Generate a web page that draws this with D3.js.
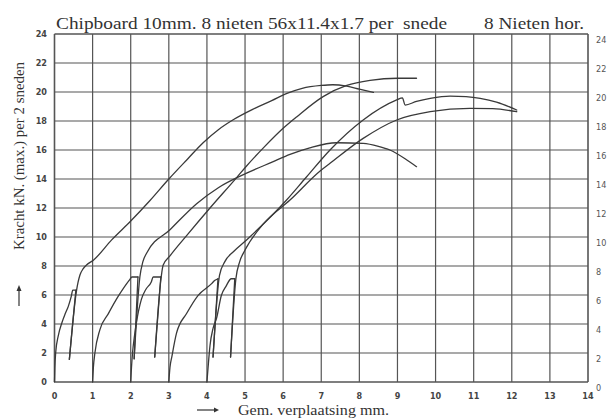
<!DOCTYPE html>
<html>
<head>
<meta charset="utf-8">
<script src="https://cdn.jsdelivr.net/npm/d3@7"></script>
<style>
  html, body { margin: 0; padding: 0; background: #fff; }
  svg { display: block; }
  text { white-space: pre; }
</style>
</head>
<body>
<svg id="chart" width="607" height="419"></svg>
<script>
// ---- data (displacement mm, force kN) ----
const xTickValues = [0,1,2,3,4,5,6,7,8,9,10,11,12,13,14];
const yTickValues = [0,2,4,6,8,10,12,14,16,18,20,22,24];
const yTickLabelsRight = ["0","2","4","6","8","10","12","14","16","18","20","22","24"];

const titleMain = "Chipboard 10mm. 8 nieten 56x11.4x1.7 per  snede";
const titleRight = "8 Nieten hor.";
const xTitle = "Gem. verplaatsing mm.";
const yTitle = "Kracht kN. (max.) per 2 sneden";

// specimen starting at 0
const specA = [
  [0,0],[0.01,1.0],[0.03,2.0],[0.1,3.2],[0.19,4.05],[0.28,4.7],[0.36,5.2],[0.44,5.9],[0.48,6.34],[0.56,6.34],
  [0.39,1.56],
  [0.58,6.34],[0.62,6.9],[0.67,7.4],[0.75,7.8],[0.84,8.07],[1.02,8.4],[1.5,9.8],[2.0,11.1],[2.5,12.5],
  [3.0,14.0],[3.5,15.4],[3.9,16.5],[4.3,17.4],[4.7,18.1],[5.2,18.8],[5.7,19.4],[6.1,19.9],[6.5,20.25],
  [7.0,20.45],[7.3,20.5],[7.67,20.4],[8.0,20.2],[8.37,19.98]
];
// specimen starting at 1
const specB = [
  [1.0,0],[1.02,1.0],[1.06,2.0],[1.19,3.6],[1.41,4.7],[1.67,5.9],[1.98,7.08],[2.03,7.24],[2.19,7.24],
  [2.09,1.6],
  [2.24,7.24],[2.32,8.3],[2.42,8.9],[3.03,10.5],[3.73,12.3],[4.3,13.4],[5.04,14.4],[5.74,15.2],[6.18,15.7],
  [6.7,16.15],[7.4,16.5],[8.1,16.45],[8.5,16.25],[8.8,16.0],[9.2,15.4],[9.5,14.85]
];
// specimen starting at 2
const specC = [
  [2.0,0],[2.02,1.0],[2.05,2.07],[2.1,3.2],[2.15,4.1],[2.28,5.7],[2.4,6.4],[2.54,6.9],[2.59,7.24],[2.79,7.24],
  [2.63,1.72],
  [2.8,7.24],[2.85,8.05],[3.03,8.7],[3.5,10.2],[4.08,12.0],[4.78,14.1],[5.04,14.9],[5.5,16.2],[6.0,17.5],
  [6.36,18.3],[7.06,19.7],[7.67,20.45],[8.28,20.8],[9.0,20.95],[9.5,20.95]
];
// specimen starting at 3
const specD = [
  [3.0,0],[3.03,1.0],[3.08,1.75],[3.2,3.35],[3.47,4.74],[3.77,5.98],[4.13,6.8],[4.2,7.0],[4.29,7.12],
  [4.16,1.72],
  [4.33,7.36],[4.47,8.3],[4.7,9.0],[5.04,9.8],[6.09,12.55],[6.6,14.1],[7.23,16.0],[8.1,18.07],[8.98,19.45],
  [9.13,19.6],[9.2,19.1],[9.5,19.35],[9.86,19.56],[10.38,19.72],[10.8,19.68],[11.17,19.56],[11.6,19.3],[12.13,18.76]
];
// specimen starting at 4
const specE = [
  [4.0,0],[4.03,1.0],[4.08,2.5],[4.16,3.7],[4.25,4.37],[4.38,5.98],[4.5,6.6],[4.64,7.12],[4.73,7.12],
  [4.62,1.72],
  [4.76,7.12],[4.86,8.3],[5.0,9.1],[5.48,10.9],[6.18,12.55],[6.97,14.55],[7.23,15.08],[8.1,16.8],[8.98,18.07],
  [9.86,18.64],[10.9,18.87],[11.5,18.85],[12.13,18.64]
];
const specimens = [specA, specB, specC, specD, specE];

// ---- drawing ----
const svg = d3.select("#chart");
const x = d3.scaleLinear().domain([0,14]).range([54.5,588]);
const y = d3.scaleLinear().domain([0,24]).range([382,34]);

const gridColor = "#555";
const inkColor = "#3a3a3a";

// grid
svg.append("g").selectAll("line").data(xTickValues).join("line")
  .attr("x1", d => x(d)).attr("x2", d => x(d))
  .attr("y1", y(0)).attr("y2", y(24))
  .attr("stroke", gridColor).attr("stroke-width", d => (d===0||d===14)?1.6:1.2);
svg.append("g").selectAll("line").data(yTickValues).join("line")
  .attr("x1", x(0)).attr("x2", x(14))
  .attr("y1", d => y(d)).attr("y2", d => y(d))
  .attr("stroke", gridColor).attr("stroke-width", d => (d===0||d===24)?1.6:1.2);

// tick labels
const tickFont = "'DejaVu Sans Condensed', 'DejaVu Sans', sans-serif";
svg.append("g").selectAll("text").data(xTickValues).join("text")
  .attr("x", d => x(d)).attr("y", 399)
  .attr("text-anchor", "middle")
  .attr("font-family", tickFont).attr("font-weight", "bold").attr("font-size", 9)
  .attr("fill", "#444").text(d => d);
svg.append("g").selectAll("text").data(yTickValues).join("text")
  .attr("x", 47).attr("y", d => y(d) + 3)
  .attr("text-anchor", "end")
  .attr("font-family", tickFont).attr("font-weight", "bold").attr("font-size", 9)
  .attr("fill", "#444").text(d => d);
svg.append("g").selectAll("text").data(yTickValues).join("text")
  .attr("x", 596).attr("y", d => y(d) + 9)
  .attr("text-anchor", "start")
  .attr("font-family", tickFont).attr("font-size", 9)
  .attr("fill", "#555").text((d,i) => yTickLabelsRight[i]);

// curves: split each specimen at the unloading step; smooth the monotone runs
const smooth = d3.line().x(d => x(d[0])).y(d => y(d[1])).curve(d3.curveMonotoneX);
const straight = d3.line().x(d => x(d[0])).y(d => y(d[1]));
const gCurves = svg.append("g").attr("fill", "none").attr("stroke", inkColor)
  .attr("stroke-width", 1.3).attr("stroke-linejoin", "round").attr("stroke-linecap", "round");
specimens.forEach(spec => {
  const runs = [[spec[0]]];
  for (let i = 1; i < spec.length; i++) {
    if (spec[i][0] < spec[i-1][0]) {
      gCurves.append("path").attr("d", straight([spec[i-1], spec[i]]));
      runs.push([spec[i]]);
    } else {
      runs[runs.length-1].push(spec[i]);
    }
  }
  runs.forEach(r => gCurves.append("path").attr("d", smooth(r)));
});

// titles
const serif = "'Liberation Serif', 'DejaVu Serif', serif";
svg.append("text").attr("x", 56).attr("y", 29)
  .attr("font-family", serif).attr("font-size", 17).attr("fill", "#333")
  .attr("textLength", 391).attr("lengthAdjust", "spacingAndGlyphs")
  .text(titleMain);
svg.append("text").attr("x", 484).attr("y", 29)
  .attr("font-family", serif).attr("font-size", 17).attr("fill", "#333")
  .attr("textLength", 100).attr("lengthAdjust", "spacingAndGlyphs")
  .text(titleRight);

svg.append("text").attr("x", 238).attr("y", 415)
  .attr("font-family", serif).attr("font-size", 14).attr("fill", "#333")
  .attr("textLength", 151).attr("lengthAdjust", "spacingAndGlyphs")
  .text(xTitle);
// x arrow
svg.append("line").attr("x1", 197).attr("x2", 214).attr("y1", 410).attr("y2", 410)
  .attr("stroke", "#333").attr("stroke-width", 1.2);
svg.append("path").attr("d", "M214,407.5 L219,410 L214,412.5 Z").attr("fill", "#333");

svg.append("text")
  .attr("transform", "translate(24,250) rotate(-90)")
  .attr("font-family", serif).attr("font-size", 15).attr("fill", "#333")
  .attr("textLength", 188).attr("lengthAdjust", "spacingAndGlyphs")
  .text(yTitle);
// y arrow
svg.append("line").attr("x1", 19).attr("x2", 19).attr("y1", 306).attr("y2", 290)
  .attr("stroke", "#333").attr("stroke-width", 1.2);
svg.append("path").attr("d", "M16.5,291 L19,285 L21.5,291 Z").attr("fill", "#333");
</script>
</body>
</html>
